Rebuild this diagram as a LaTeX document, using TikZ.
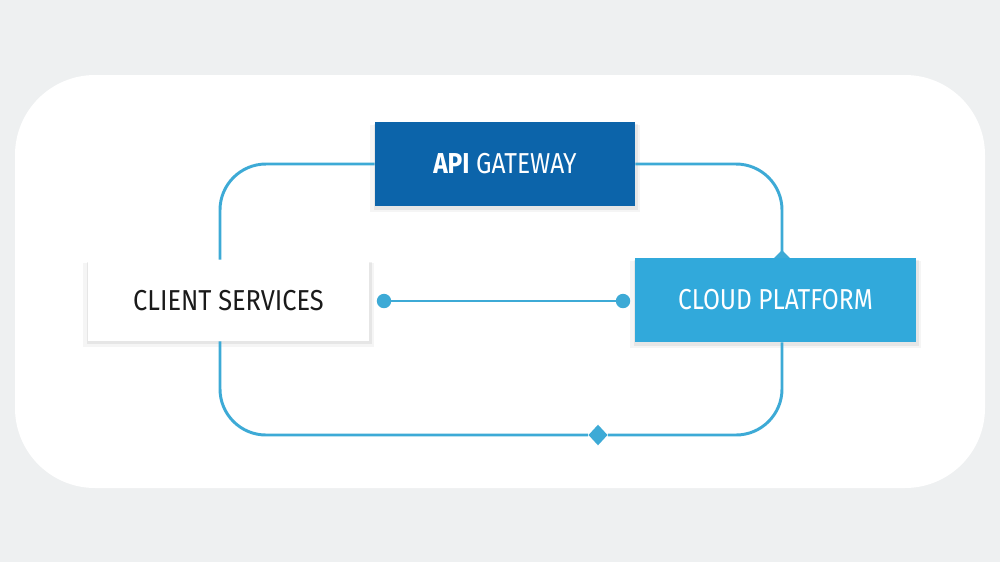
\documentclass[tikz,border=0pt]{standalone}
\usepackage{fontspec}
\setmainfont{Fira Sans}
\newfontfamily\cond[FakeStretch=0.85]{Fira Sans}
\newfontfamily\condb[FakeStretch=0.88]{Fira Sans}
\usetikzlibrary{shadows,shapes.geometric}
\definecolor{bg}{HTML}{EEF0F1}
\definecolor{gw}{HTML}{0C64AA}
\definecolor{cp}{HTML}{31A9DB}
\definecolor{ln}{HTML}{3DAAD6}
\definecolor{txt}{HTML}{1A1A1A}
\begin{document}
\begin{tikzpicture}[x=0.025cm,y=-0.025cm,
  box/.style={minimum width=7cm, minimum height=2.1cm, inner sep=0pt,
    font=\cond\fontsize{20.5}{24}\selectfont,
    general shadow={fill=black, opacity=0.04, shadow scale=1.035, shadow yshift=-3pt},
    general shadow={fill=black, opacity=0.06, shadow scale=1.015, shadow yshift=-2pt, shadow xshift=0.5pt}},
  conn/.style={draw=ln, line width=2.1pt},
  dot/.style={circle, fill=ln, minimum size=0.36cm, inner sep=0pt},
  dmd/.style={diamond, fill=ln, inner sep=0pt, minimum width=0.48cm, minimum height=0.52cm}]
\fill[bg] (0,0) rectangle (1000,562);
\useasboundingbox (0,0) rectangle (1000,562);
\fill[white, rounded corners=2cm] (15,75) rectangle (985,488);

\coordinate (L) at (220,300);
\coordinate (R) at (782,300);

\node[dmd, minimum width=0.4cm, minimum height=0.4cm] (tip) at (782,258) {};
\node[box, fill=gw, text=white, minimum width=6.5cm, minimum height=2.1cm] (api) at (505,164) {\textbf{API} GATEWAY};
\node[box, fill=white, text=txt, minimum width=7.025cm, minimum height=2.025cm,
  font=\condb\fontsize{20.5}{24}\selectfont] (client) at (228.5,300.5) {CLIENT SERVICES};
\node[box, fill=cp, text=white, minimum width=7.025cm, minimum height=2.1cm] (cloud) at (775.5,300) {CLOUD PLATFORM};
\node[dmd] (dm) at (598,435) {};
\node[dot] (d1) at (384,301) {};
\node[dot] (d2) at (623,301) {};

\draw[conn, rounded corners=1.15cm] (api.west) -| (client.north -| L);
\draw[conn, rounded corners=1.15cm] (api.east) -| (tip.center);
\draw[conn, rounded corners=1.15cm] (client.south -| L) |- (dm.west);
\draw[conn, rounded corners=1.15cm] (dm.east) -| (cloud.south -| R);
\draw[conn] (d1) -- (d2);
\end{tikzpicture}
\end{document}
